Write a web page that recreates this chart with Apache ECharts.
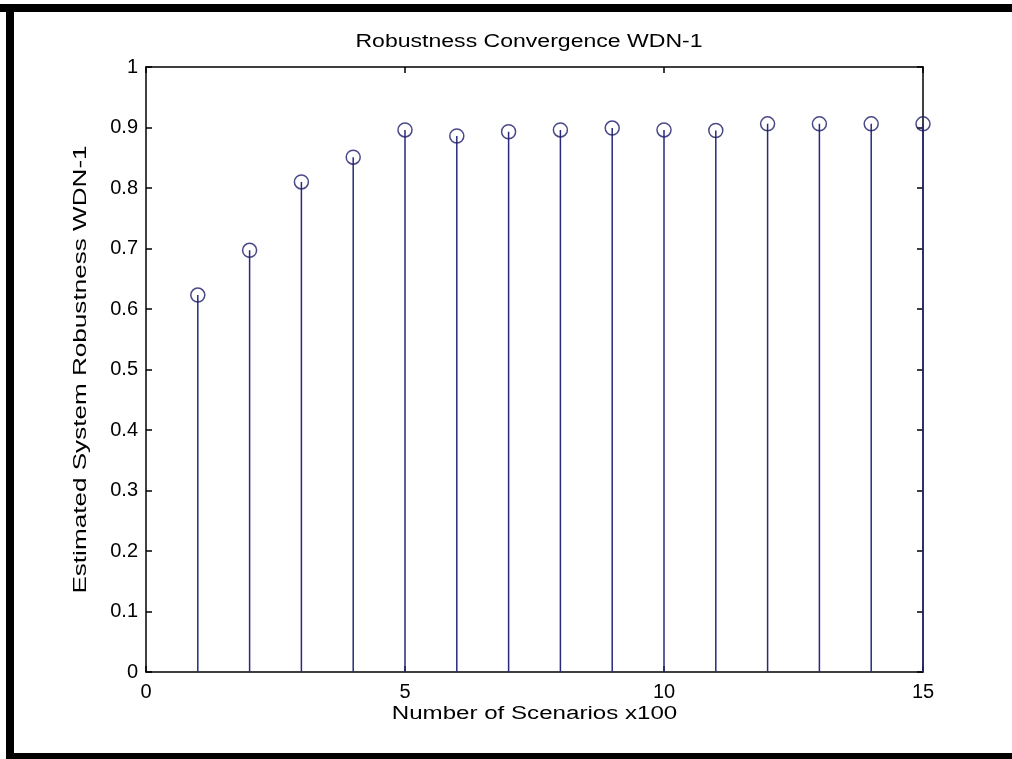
<!DOCTYPE html>
<html><head><meta charset="utf-8">
<script src="https://cdn.jsdelivr.net/npm/echarts@6/dist/echarts.min.js"></script>
<style>html,body{margin:0;padding:0;background:#fff}#c{width:1012px;height:759px}</style>
</head><body><div id="c"></div>
<script>
const titleText = 'Robustness Convergence WDN-1';
const xAxisName = 'Number of Scenarios x100';
const yAxisName = 'Estimated System Robustness WDN-1';
const scenarios = [1, 2, 3, 4, 5, 6, 7, 8, 9, 10, 11, 12, 13, 14, 15];
const robustness = [0.623, 0.697, 0.810, 0.851, 0.896, 0.886, 0.893, 0.896, 0.899, 0.896, 0.895, 0.906, 0.906, 0.906, 0.906];
const xTickValues = [0, 5, 10, 15];
const yTickValues = [0, 0.1, 0.2, 0.3, 0.4, 0.5, 0.6, 0.7, 0.8, 0.9, 1];

const FONT = 'Liberation Sans';
const stemData = scenarios.map((x, i) => [x, robustness[i]]);

const chart = echarts.init(document.getElementById('c'), null, {renderer: 'canvas'});
const axisLine = {show: true, onZero: false, lineStyle: {color: '#000', width: 1.5}};
const axisTick = {show: true, inside: true, length: 6, lineStyle: {color: '#000', width: 1.5}};
const labelText = (text, x, y, sx, rot) => ({
  type: 'text', x, y, scaleX: sx, rotation: rot || 0, z: 50, silent: true,
  style: {text, font: '18px "' + FONT + '"', fill: '#000',
    align: 'center', verticalAlign: 'middle', textAlign: 'center', textVerticalAlign: 'middle'}
});
chart.setOption({
  backgroundColor: '#fff',
  animation: false,
  grid: {left: 146, right: 89, top: 67, bottom: 87, containLabel: false},
  xAxis: [{
    type: 'value', min: 0, max: 15, interval: 5, position: 'bottom',
    axisLine, axisTick, splitLine: {show: false},
    axisLabel: {fontFamily: FONT, fontSize: 20, color: '#000', margin: 10,
      formatter: v => xTickValues.includes(v) ? String(v) : ''}
  }, {
    type: 'value', min: 0, max: 15, interval: 5, position: 'top',
    axisLine, axisTick, splitLine: {show: false}, axisLabel: {show: false}
  }],
  yAxis: [{
    type: 'value', min: 0, max: 1, interval: 0.1, position: 'left',
    axisLine, axisTick, splitLine: {show: false},
    axisLabel: {fontFamily: FONT, fontSize: 20, color: '#000', margin: 8,
      formatter: v => { const r = Math.round(v * 10) / 10; return yTickValues.some(t => Math.abs(t - r) < 1e-9) ? String(r) : ''; }}
  }, {
    type: 'value', min: 0, max: 1, interval: 0.1, position: 'right',
    axisLine, axisTick, splitLine: {show: false}, axisLabel: {show: false}
  }],
  graphic: [
    {type: 'rect', shape: {x: 0, y: 4, width: 1012, height: 8}, style: {fill: '#000'}, z: 100},
    {type: 'rect', shape: {x: 6, y: 4, width: 8, height: 755}, style: {fill: '#000'}, z: 100},
    {type: 'rect', shape: {x: 6, y: 753, width: 1006, height: 6}, style: {fill: '#000'}, z: 100},
    labelText(titleText, 529, 42, 1.28),
    labelText(xAxisName, 534.5, 714, 1.34),
    labelText(yAxisName, 81, 369.5, 1.45, Math.PI / 2)
  ],
  series: [{
    type: 'bar', data: stemData, barWidth: 1.5, xAxisIndex: 0, yAxisIndex: 0,
    itemStyle: {color: '#2a2a7c'}, silent: true, z: 2
  }, {
    type: 'scatter', data: stemData, symbol: 'circle', symbolSize: 14, xAxisIndex: 0, yAxisIndex: 0,
    itemStyle: {color: 'rgba(0,0,0,0)', borderColor: '#1c1c66', borderWidth: 1.5}, silent: true, z: 3
  }]
});
</script></body></html>
